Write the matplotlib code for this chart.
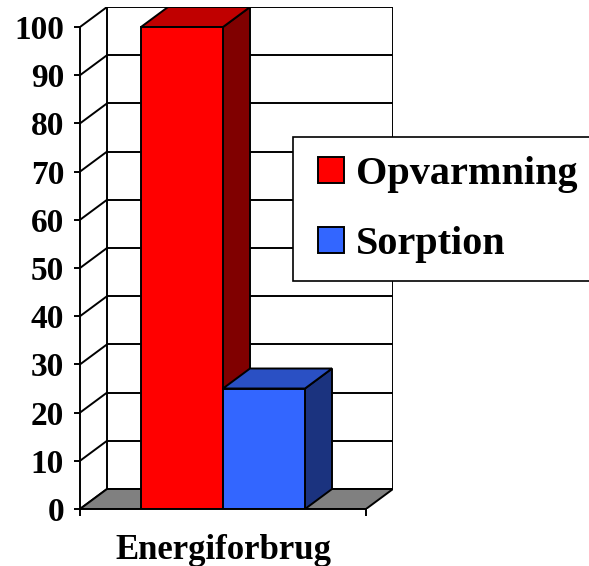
import numpy as np
import matplotlib.pyplot as plt
from matplotlib.patches import Polygon
from matplotlib.lines import Line2D

# data
categories = ["Energiforbrug"]
series = ["Opvarmning", "Sorption"]
values = [100, 25]
front_colors = ["#FF0000", "#3366FF"]
top_colors = ["#C00000", "#2A50C4"]
side_colors = ["#800000", "#1B337F"]
yticks = list(range(0, 101, 10))

plt.rcParams['font.family'] = ['Liberation Serif', 'DejaVu Serif']
plt.rcParams['font.weight'] = 'bold'

fig = plt.figure(figsize=(5.89, 5.66), dpi=100)
W, H = 589, 566
ax = fig.add_axes([80 / W, (H - 509) / H, 313 / W, 502 / H])

# fake 3d depth (in data units)
dx = 27 / 286
dy = 20 / 4.82
lw = 1.4

ax.set_xlim(0, 1 + dx)
ax.set_ylim(0, 100 + dy)

# back wall + side wall grid
for v in yticks:
    ax.plot([dx, 1 + dx], [v + dy, v + dy], color="black", lw=lw, zorder=1)
    ax.plot([0, dx], [v, v + dy], color="black", lw=lw, zorder=1)
ax.plot([dx, dx], [dy, 100 + dy], color="black", lw=lw, zorder=1)
ax.plot([1 + dx, 1 + dx], [dy, 100 + dy], color="black", lw=lw, zorder=1)

# floor
ax.add_patch(Polygon([[0, 0], [1, 0], [1 + dx, dy], [dx, dy]], closed=True,
                     facecolor="#808080", edgecolor="black", lw=lw, zorder=2))

# bars
w = 82 / 286
xs = [0.5 - w / 2, 0.5 + w / 2]
for i, (x, v) in enumerate(zip(xs, values)):
    z = 3 + i * 3
    x0, x1 = x - w / 2, x + w / 2
    ax.add_patch(Polygon([[x1, 0], [x1 + dx, dy], [x1 + dx, v + dy], [x1, v]],
                         closed=True, facecolor=side_colors[i], edgecolor="black",
                         lw=lw, zorder=z))
    ax.add_patch(Polygon([[x0, v], [x1, v], [x1 + dx, v + dy], [x0 + dx, v + dy]],
                         closed=True, facecolor=top_colors[i], edgecolor="black",
                         lw=lw, zorder=z))
    ax.bar(x, v, width=w, color=front_colors[i], edgecolor="black", lw=lw,
           zorder=z + 1)

# axes
for s in ["top", "right"]:
    ax.spines[s].set_visible(False)
ax.spines["left"].set_bounds(0, 100)
ax.spines["bottom"].set_bounds(0, 1)
for s in ["left", "bottom"]:
    ax.spines[s].set_linewidth(lw)
    ax.spines[s].set_zorder(10)

ax.set_yticks(yticks)
ax.set_yticklabels([str(t) for t in yticks], fontsize=24, fontweight="bold")
ax.tick_params(axis="y", direction="out", length=4.5, width=lw, pad=7)

ax.set_xticks([0.5])
ax.set_xticklabels(categories, fontsize=25, fontweight="bold")
ax.set_xticks([0, 1], minor=True)
ax.tick_params(axis="x", which="major", length=0, pad=18)
ax.tick_params(axis="x", which="minor", direction="out", length=5, width=lw)

# legend (box runs past the right edge, like the original)
handles = [Line2D([], [], marker="s", linestyle="none", markersize=18.7,
                  markerfacecolor=c, markeredgecolor="black", markeredgewidth=1.4)
           for c in front_colors]
leg = fig.legend(handles, series, loc="upper left", mode="expand",
                 bbox_to_anchor=(293 / W, 0.3, 330 / W, 1 - 137 / H - 0.3),
                 borderaxespad=0,
                 prop={"family": "Liberation Serif", "weight": "bold", "size": 29},
                 handlelength=0.95, handletextpad=0.15, borderpad=0.46,
                 labelspacing=0.82, fancybox=False, framealpha=1,
                 edgecolor="black")
leg.get_frame().set_linewidth(1.2)

fig.savefig("out.png", dpi=100)
